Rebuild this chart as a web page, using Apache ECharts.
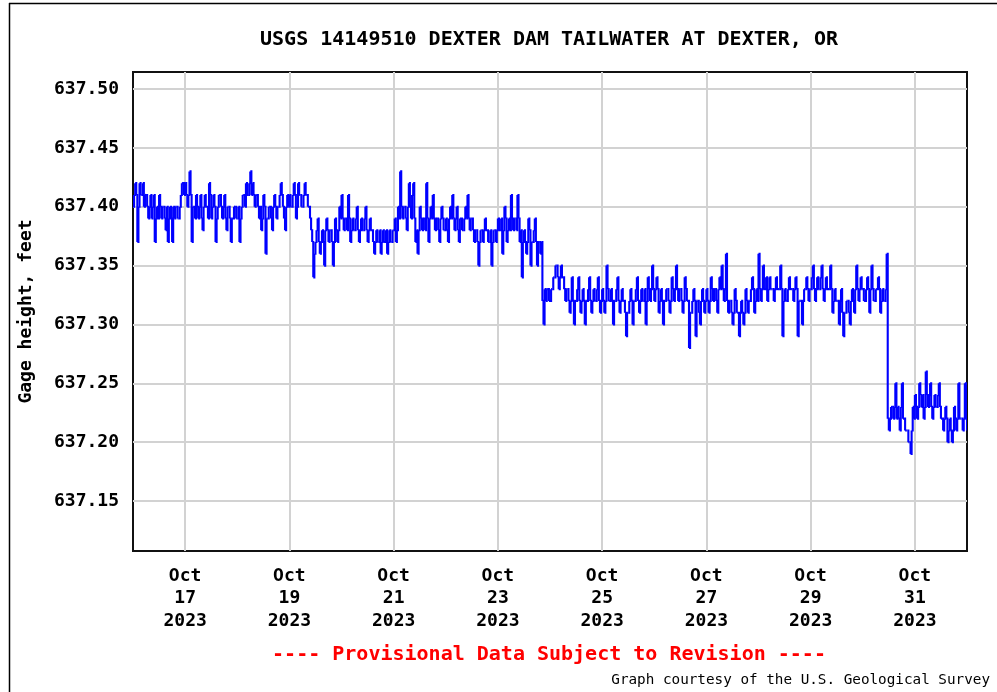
<!DOCTYPE html>
<html><head><meta charset="utf-8">
<script src="https://cdn.jsdelivr.net/npm/echarts@6/dist/echarts.min.js"></script>
<style>html,body{margin:0;padding:0;background:#fff}#c{width:997px;height:692px}</style>
</head><body><div id="c"></div>
<script>
const titleText = 'USGS 14149510 DEXTER DAM TAILWATER AT DEXTER, OR';
const yAxisName = 'Gage height, feet';
const noteText = '---- Provisional Data Subject to Revision ----';
const creditText = 'Graph courtesy of the U.S. Geological Survey';
const monthLabel = 'Oct';
const yearLabel = '2023';
const firstDay = 16;           // Oct 16 2023 00:00 = left edge
const xTickDays = [17, 19, 21, 23, 25, 27, 29, 31];
const yTicks = [637.15, 637.20, 637.25, 637.30, 637.35, 637.40, 637.45, 637.50];
const yMin = 637.1076, yMax = 637.5144;
const stepHours = 0.5;         // readings every 30 minutes

// half-hourly gage height readings (feet), one array per day
const oct16 = [637.40,637.41,637.42,637.41,637.37,637.40,637.42,637.41,637.41,637.42,637.40,637.41,637.41,637.40,637.39,637.40,637.41,637.39,637.40,637.41,637.37,637.39,637.40,637.39,637.41,637.40,637.39,637.40,637.40,637.39,637.38,637.40,637.37,637.39,637.40,637.39,637.37,637.40,637.39,637.40,637.40,637.39,637.39,637.40,637.41,637.42,637.42,637.41];
const oct17 = [637.42,637.41,637.40,637.41,637.43,637.41,637.37,637.40,637.40,637.39,637.41,637.40,637.39,637.40,637.41,637.39,637.38,637.40,637.41,637.40,637.40,637.39,637.42,637.41,637.39,637.40,637.41,637.40,637.37,637.39,637.40,637.41,637.41,637.40,637.39,637.40,637.41,637.39,637.38,637.40,637.40,637.39,637.37,637.39,637.39,637.40,637.40,637.39];
const oct18 = [637.39,637.40,637.37,637.39,637.40,637.41,637.41,637.40,637.42,637.41,637.41,637.42,637.43,637.41,637.42,637.41,637.40,637.41,637.41,637.40,637.39,637.40,637.38,637.39,637.41,637.40,637.36,637.39,637.39,637.40,637.40,637.39,637.38,637.40,637.41,637.40,637.39,637.40,637.40,637.41,637.42,637.41,637.40,637.39,637.38,637.40,637.41,637.40];
const oct19 = [637.41,637.40,637.40,637.41,637.42,637.41,637.39,637.40,637.42,637.41,637.41,637.40,637.40,637.41,637.42,637.41,637.41,637.40,637.40,637.39,637.38,637.37,637.34,637.36,637.37,637.38,637.39,637.37,637.36,637.37,637.38,637.37,637.35,637.38,637.39,637.38,637.37,637.38,637.38,637.37,637.35,637.37,637.39,637.38,637.37,637.38,637.40,637.39];
const oct20 = [637.41,637.39,637.38,637.39,637.39,637.38,637.41,637.39,637.37,637.38,637.39,637.38,637.38,637.39,637.40,637.38,637.37,637.38,637.39,637.38,637.38,637.39,637.40,637.38,637.37,637.38,637.39,637.38,637.38,637.37,637.36,637.37,637.38,637.37,637.37,637.38,637.36,637.37,637.38,637.37,637.37,637.38,637.36,637.37,637.38,637.37,637.37,637.38];
const oct21 = [637.38,637.39,637.37,637.38,637.40,637.39,637.43,637.40,637.39,637.40,637.40,637.39,637.38,637.40,637.42,637.40,637.39,637.41,637.42,637.39,637.37,637.38,637.36,637.38,637.40,637.39,637.38,637.39,637.39,637.38,637.42,637.39,637.37,637.39,637.40,637.39,637.41,637.39,637.38,637.39,637.39,637.38,637.37,637.39,637.40,637.39,637.38,637.38];
const oct22 = [637.39,637.38,637.37,637.39,637.40,637.39,637.41,637.39,637.38,637.39,637.40,637.38,637.37,637.39,637.39,637.38,637.38,637.39,637.40,637.39,637.41,637.39,637.38,637.39,637.39,637.38,637.37,637.38,637.38,637.37,637.35,637.37,637.38,637.38,637.37,637.38,637.39,637.38,637.38,637.37,637.37,637.38,637.35,637.37,637.38,637.38,637.37,637.38];
const oct23 = [637.39,637.38,637.38,637.39,637.36,637.38,637.40,637.39,637.37,637.38,637.39,637.38,637.41,637.39,637.38,637.39,637.39,637.38,637.41,637.39,637.37,637.38,637.34,637.37,637.38,637.37,637.36,637.37,637.39,637.38,637.35,637.37,637.37,637.38,637.39,637.37,637.35,637.37,637.37,637.36,637.37,637.32,637.30,637.33,637.32,637.33,637.33,637.32];
const oct24 = [637.32,637.33,637.33,637.34,637.34,637.35,637.35,637.34,637.33,637.34,637.35,637.34,637.34,637.33,637.32,637.33,637.33,637.32,637.31,637.32,637.34,637.32,637.30,637.32,637.32,637.33,637.34,637.32,637.31,637.32,637.33,637.32,637.30,637.32,637.32,637.33,637.34,637.32,637.31,637.32,637.33,637.32,637.32,637.33,637.34,637.32,637.31,637.32];
const oct25 = [637.33,637.32,637.31,637.32,637.35,637.33,637.32,637.32,637.33,637.32,637.30,637.32,637.32,637.33,637.34,637.32,637.31,637.32,637.33,637.32,637.32,637.31,637.29,637.31,637.31,637.32,637.33,637.32,637.30,637.32,637.32,637.33,637.34,637.32,637.31,637.32,637.33,637.32,637.32,637.33,637.30,637.32,637.34,637.33,637.32,637.33,637.35,637.33];
const oct26 = [637.32,637.33,637.34,637.33,637.31,637.32,637.33,637.32,637.30,637.32,637.32,637.33,637.33,637.32,637.31,637.32,637.34,637.33,637.32,637.33,637.35,637.33,637.32,637.33,637.33,637.32,637.31,637.32,637.34,637.33,637.32,637.32,637.28,637.31,637.31,637.32,637.33,637.32,637.29,637.32,637.32,637.31,637.30,637.32,637.33,637.32,637.31,637.32];
const oct27 = [637.33,637.32,637.31,637.32,637.34,637.33,637.32,637.33,637.33,637.32,637.31,637.33,637.34,637.33,637.35,637.33,637.32,637.33,637.36,637.32,637.31,637.32,637.32,637.31,637.30,637.31,637.33,637.32,637.31,637.31,637.29,637.31,637.32,637.31,637.30,637.31,637.33,637.32,637.31,637.32,637.32,637.33,637.34,637.33,637.31,637.32,637.33,637.32];
const oct28 = [637.36,637.33,637.32,637.33,637.35,637.33,637.33,637.34,637.32,637.33,637.34,637.33,637.33,637.33,637.32,637.33,637.34,637.33,637.33,637.33,637.35,637.33,637.29,637.32,637.33,637.32,637.32,637.33,637.34,637.33,637.33,637.33,637.32,637.33,637.34,637.33,637.29,637.32,637.32,637.32,637.30,637.32,637.33,637.33,637.34,637.33,637.32,637.33];
const oct29 = [637.33,637.34,637.35,637.33,637.32,637.33,637.34,637.33,637.33,637.34,637.35,637.33,637.32,637.33,637.34,637.33,637.33,637.33,637.35,637.33,637.31,637.32,637.33,637.32,637.32,637.32,637.30,637.32,637.33,637.31,637.29,637.31,637.31,637.32,637.32,637.31,637.30,637.32,637.33,637.32,637.31,637.33,637.35,637.33,637.32,637.33,637.34,637.33];
const oct30 = [637.33,637.32,637.32,637.33,637.34,637.33,637.31,637.33,637.35,637.33,637.32,637.32,637.33,637.33,637.34,637.33,637.31,637.32,637.33,637.32,637.32,637.33,637.36,637.22,637.21,637.22,637.23,637.23,637.22,637.23,637.25,637.22,637.23,637.22,637.21,637.23,637.25,637.22,637.22,637.21,637.21,637.21,637.20,637.20,637.19,637.21,637.23,637.22];
const oct31 = [637.24,637.23,637.22,637.23,637.25,637.24,637.23,637.24,637.22,637.23,637.26,637.24,637.23,637.24,637.25,637.23,637.22,637.23,637.24,637.23,637.23,637.24,637.25,637.23,637.22,637.22,637.21,637.22,637.23,637.22,637.20,637.21,637.22,637.21,637.20,637.21,637.23,637.22,637.21,637.22,637.25,637.22,637.22,637.22,637.21,637.22,637.25,637.22];
const nov1 = [637.21];

const days = [oct16, oct17, oct18, oct19, oct20, oct21, oct22, oct23, oct24, oct25, oct26, oct27, oct28, oct29, oct30, oct31, nov1];
const points = [];
days.forEach((d, i) => d.forEach((v, k) => points.push([i * 24 + k * stepHours, v])));

const xTickHours = xTickDays.map(d => (d - firstDay) * 24);
const boldFont = { fontFamily: 'DejaVu Sans Mono', fontWeight: 'bold', color: '#000' };

// each reading drawn as a step segment from the previous reading (no path simplification)
function renderStep(params, api) {
  const i = params.dataIndex;
  if (i === 0) return null;
  const prev = points[i - 1];
  const p0 = api.coord([prev[0], prev[1]]);
  const p1 = api.coord([api.value(0), api.value(1)]);
  return {
    type: 'polyline',
    shape: { points: [[p0[0], p0[1]], [p1[0], p0[1]], [p1[0], p1[1]]] },
    style: { stroke: '#0000ff', lineWidth: 2.1, fill: null, lineJoin: 'miter', lineCap: 'butt' },
    silent: true
  };
}

const chart = echarts.init(document.getElementById('c'), null, { renderer: 'canvas' });
chart.setOption({
  animation: false,
  backgroundColor: '#fff',
  grid: { left: 133, right: 30, top: 72, bottom: 141, show: true, borderColor: '#111', borderWidth: 2, backgroundColor: 'transparent' },
  xAxis: {
    type: 'value', min: 0, max: (days.length - 1) * 24,
    axisLine: { show: false },
    axisTick: { show: false, customValues: xTickHours },
    splitLine: { show: true, lineStyle: { color: '#d2d2d2', width: 2 } },
    axisLabel: Object.assign({
      customValues: xTickHours, fontSize: 18, lineHeight: 22.5, margin: 14,
      formatter: v => monthLabel + '\n' + (firstDay + Math.round(v / 24)) + '\n' + yearLabel
    }, boldFont)
  },
  yAxis: {
    type: 'value', min: yMin, max: yMax,
    name: yAxisName, nameLocation: 'middle', nameGap: 98, nameRotate: 90,
    nameTextStyle: Object.assign({ fontSize: 18 }, boldFont),
    axisLine: { show: false },
    axisTick: { show: false, customValues: yTicks },
    splitLine: { show: true, lineStyle: { color: '#d2d2d2', width: 2 } },
    axisLabel: Object.assign({
      customValues: yTicks, fontSize: 18, margin: 14,
      formatter: v => v.toFixed(2)
    }, boldFont)
  },
  series: [{
    type: 'custom', data: points, renderItem: renderStep,
    encode: { x: 0, y: 1 }, clip: true, z: 3
  }],
  graphic: [
    { type: 'line', shape: { x1: 9.5, y1: 3, x2: 9.5, y2: 692 }, style: { stroke: '#000', lineWidth: 1.5 } },
    { type: 'line', shape: { x1: 9, y1: 3.5, x2: 997, y2: 3.5 }, style: { stroke: '#000', lineWidth: 1.5 } },
    { type: 'text', x: 549, y: 40, style: { text: titleText, font: 'bold 20px "DejaVu Sans Mono"', fill: '#000', align: 'center', verticalAlign: 'middle' } },
    { type: 'text', x: 549, y: 655, style: { text: noteText, font: 'bold 20px "DejaVu Sans Mono"', fill: '#ff0000', align: 'center', verticalAlign: 'middle' } },
    { type: 'text', x: 990, y: 680, style: { text: creditText, font: '14.3px "DejaVu Sans Mono"', fill: '#000', align: 'right', verticalAlign: 'middle' } }
  ]
});
</script>
</body></html>
